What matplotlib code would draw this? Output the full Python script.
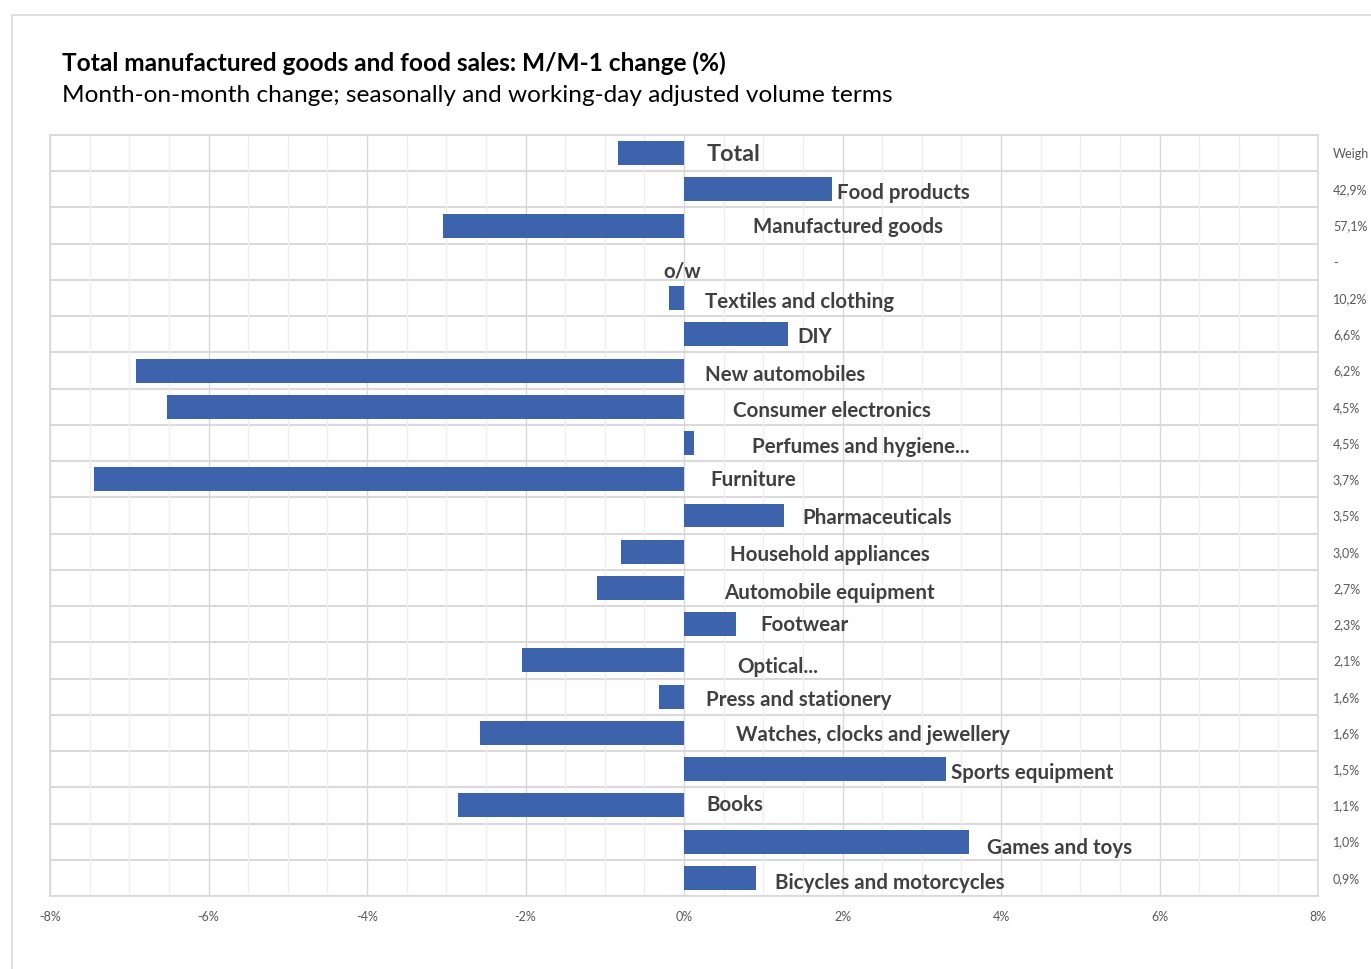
import numpy as np
import matplotlib.pyplot as plt
from matplotlib.transforms import blended_transform_factory

plt.rcParams['font.family'] = ['Lato', 'DejaVu Sans']

# data: month-on-month change (%)
categories = ['Total', 'Food products', 'Manufactured goods', 'o/w',
              'Textiles and clothing', 'DIY', 'New automobiles',
              'Consumer electronics', 'Perfumes and hygiene...', 'Furniture',
              'Pharmaceuticals', 'Household appliances', 'Automobile equipment',
              'Footwear', 'Optical...', 'Press and stationery',
              'Watches, clocks and jewellery', 'Sports equipment', 'Books',
              'Games and toys', 'Bicycles and motorcycles']
changes = [-0.83, 1.87, -3.04, np.nan, -0.19, 1.31, -6.91, -6.52, 0.13, -7.44,
           1.26, -0.79, -1.10, 0.66, -2.04, -0.32, -2.57, 3.31, -2.85, 3.60, 0.91]
weights = ['Weigh', '42,9%', '57,1%', '-', '10,2%', '6,6%', '6,2%', '4,5%',
           '4,5%', '3,7%', '3,5%', '3,0%', '2,7%', '2,3%', '2,1%', '1,6%',
           '1,6%', '1,5%', '1,1%', '1,0%', '0,9%']
x_ticks = [-8, -6, -4, -2, 0, 2, 4, 6, 8]

# where the (hand-placed) data labels sit, in % units / row offsets
label_x = [0.28, 1.93, 0.87, -0.26, 0.26, 1.43, 0.26, 0.62, 0.86, 0.33, 1.50,
           0.58, 0.50, 0.96, 0.67, 0.28, 0.66, 3.37, 0.28, 3.82, 1.15]
label_dy = [0, 0.08, 0, 0.25, 0.08, 0.05, 0.1, 0.08, 0.08, 0, 0.05,
            0.05, 0.1, 0, 0.14, 0.05, 0.03, 0.08, -0.03, 0.14, 0.1]

W, H = 1371, 970
fig = plt.figure(figsize=(W / 100, H / 100), dpi=100)

# outer chart frame (only the top/left edges are visible)
fig.add_artist(plt.Line2D([12 / W, 12 / W], [0, 1 - 16 / H], color='#d9d9d9', lw=1.2))
fig.add_artist(plt.Line2D([12 / W, 1], [1 - 16 / H, 1 - 16 / H], color='#d9d9d9', lw=1.2))

fig.text(62 / W, 1 - 63 / H, 'Total manufactured goods and food sales: M/M-1 change (%)',
         fontsize=17.6, fontweight='bold', color='black', va='center')
fig.text(62 / W, 1 - 95 / H, 'Month-on-month change; seasonally and working-day adjusted volume terms',
         fontsize=17.6, color='black', va='center')

ax = fig.add_axes([50 / W, 1 - 897 / H, (1318 - 50) / W, (897 - 136) / H])
n = len(categories)
ypos = np.arange(n) + 0.5
ax.barh(ypos, changes, height=0.66, color='#3c63ac', zorder=3)

ax.set_xlim(-8, 8)
ax.set_ylim(n, 0)
ax.set_xticks(x_ticks)
ax.set_xticklabels([f'{t}%' for t in x_ticks], fontsize=9, color='#595959')
ax.set_xticks(np.arange(-8, 8.01, 0.5), minor=True)
ax.set_yticks([])
ax.tick_params(axis='x', length=0, pad=10)
ax.tick_params(axis='x', which='minor', length=0)
ax.grid(axis='x', which='minor', color='#efefef', lw=1, zorder=0)
ax.grid(axis='x', which='major', color='#d9d9d9', lw=1, zorder=0)
ax.hlines(np.arange(n + 1), -8, 8, color='#d9d9d9', lw=1.5, zorder=1)
for s in ax.spines.values():
    s.set_color('#d9d9d9')
    s.set_linewidth(1.2)

for i, name in enumerate(categories):
    size = 16.8 if name == 'Total' else 14.8
    ax.text(label_x[i], ypos[i] + label_dy[i], name, fontsize=size, fontweight='bold',
            color='#404040', va='center', ha='left', zorder=4)

trans = blended_transform_factory(ax.transAxes, ax.transData)
for i, w in enumerate(weights):
    ax.text(1.0118, ypos[i], w, transform=trans, fontsize=9, color='#595959',
            va='center', ha='left', clip_on=False)

fig.savefig('out.png', dpi=100)
